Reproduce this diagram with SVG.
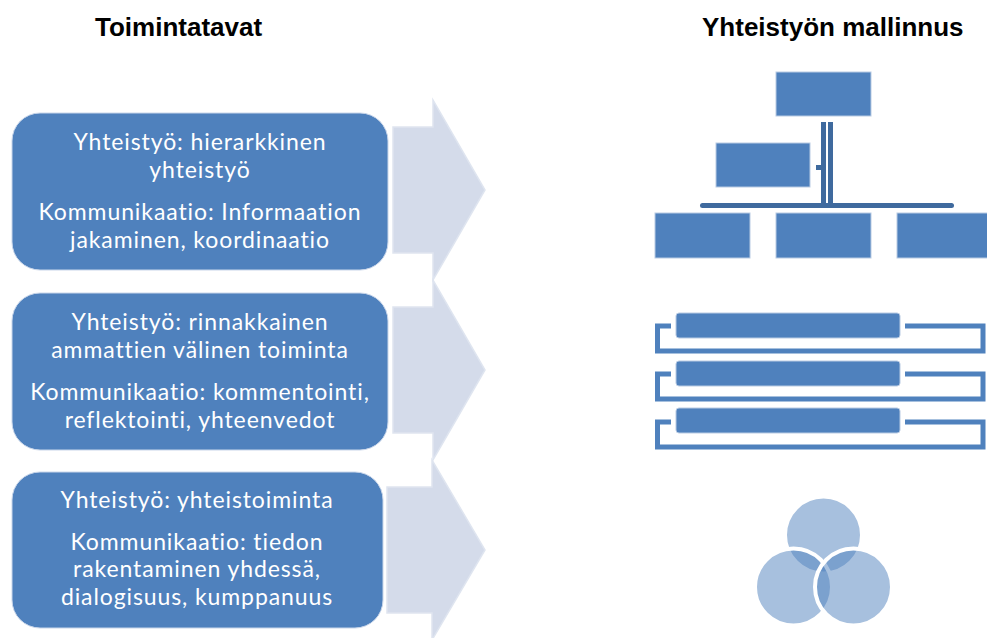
<svg xmlns="http://www.w3.org/2000/svg" width="987" height="638" viewBox="0 0 987 638">
<style>
.hdr{font-family:"Liberation Sans",Arial,sans-serif;font-weight:bold;font-size:26px;fill:#000}
.box{fill:#4F81BD;stroke:#C9D6EA;stroke-width:1}
.arrow{fill:#D4DBEA;stroke:#DFE5F0;stroke-width:1.5}
.txt{font-family:Lato,"Open Sans",sans-serif;font-size:23px;letter-spacing:0.9px;fill:#fff;text-anchor:middle}
.org{fill:#4F81BD;stroke:#B9CBE3;stroke-width:1}
.conn{fill:#3F6A9E}
.brk{fill:none;stroke:#4F81BD;stroke-width:5}
.bar{fill:#4F81BD;stroke:#B9CBE3;stroke-width:1}
.venn{fill:#4F81BD;fill-opacity:0.5;stroke:#fff;stroke-width:4}
</style>
<rect width="987" height="638" fill="#fff"/>
<text class="hdr" x="95" y="36">Toimintatavat</text>
<text class="hdr" x="702" y="36">Yhteistyön mallinnus</text>

<g id="connectors">
  <polygon class="arrow" points="393,127 433,127 433,100 485,190 433,280 433,253 393,253"/>
  <polygon class="arrow" points="393,307 433,307 433,280 485,370 433,460 433,433 393,433"/>
  <polygon class="arrow" points="387,487 432,487 432,460 485,550 432,640 432,613 387,613"/>
</g>

<g id="node1">
  <rect class="box" x="12" y="113" width="376" height="157" rx="28"/>
  <text class="txt" x="200" y="150">Yhteistyö: hierarkkinen</text>
  <text class="txt" x="200" y="178">yhteistyö</text>
  <text class="txt" x="200" y="220">Kommunikaatio: Informaation</text>
  <text class="txt" x="200" y="248">jakaminen, koordinaatio</text>
</g>
<g id="node2">
  <rect class="box" x="12" y="293" width="376" height="157" rx="28"/>
  <text class="txt" x="200" y="330">Yhteistyö: rinnakkainen</text>
  <text class="txt" x="200" y="358">ammattien välinen toiminta</text>
  <text class="txt" x="200" y="400">Kommunikaatio: kommentointi,</text>
  <text class="txt" x="200" y="428">reflektointi, yhteenvedot</text>
</g>
<g id="node3">
  <rect class="box" x="12" y="472" width="371" height="156" rx="28"/>
  <text class="txt" x="197" y="508">Yhteistyö: yhteistoiminta</text>
  <text class="txt" x="197" y="550">Kommunikaatio: tiedon</text>
  <text class="txt" x="197" y="577">rakentaminen yhdessä,</text>
  <text class="txt" x="197" y="605">dialogisuus, kumppanuus</text>
</g>

<g id="hierarchy">
  <rect class="conn" x="821" y="122" width="5" height="84"/>
  <rect class="conn" x="828" y="122" width="5" height="84"/>
  <rect class="conn" x="816" y="165" width="6" height="5"/>
  <rect class="conn" x="700" y="203" width="254" height="5" rx="2.5"/>
  <rect class="org" x="776" y="72" width="95" height="44"/>
  <rect class="org" x="716" y="143" width="94" height="44"/>
  <rect class="org" x="655" y="213" width="95" height="45"/>
  <rect class="org" x="776" y="213" width="95" height="45"/>
  <rect class="org" x="897" y="213" width="95" height="45"/>
</g>

<g id="parallel">
  <path class="brk" d="M671,326 H657.5 V351 H983 V326 H905"/>
  <rect class="bar" x="676" y="313" width="224" height="25" rx="3"/>
  <path class="brk" d="M671,374 H657.5 V399 H983 V374 H905"/>
  <rect class="bar" x="676" y="361" width="224" height="25" rx="3"/>
  <path class="brk" d="M671,422 H657.5 V447 H983 V422 H905"/>
  <rect class="bar" x="676" y="408" width="224" height="25" rx="3"/>
</g>

<g id="venn">
  <circle class="venn" cx="823.5" cy="535" r="38.5" stroke="none"/>
  <circle class="venn" cx="793.5" cy="587" r="38.5"/>
  <circle class="venn" cx="853.5" cy="587" r="38.5"/>
</g>
</svg>
